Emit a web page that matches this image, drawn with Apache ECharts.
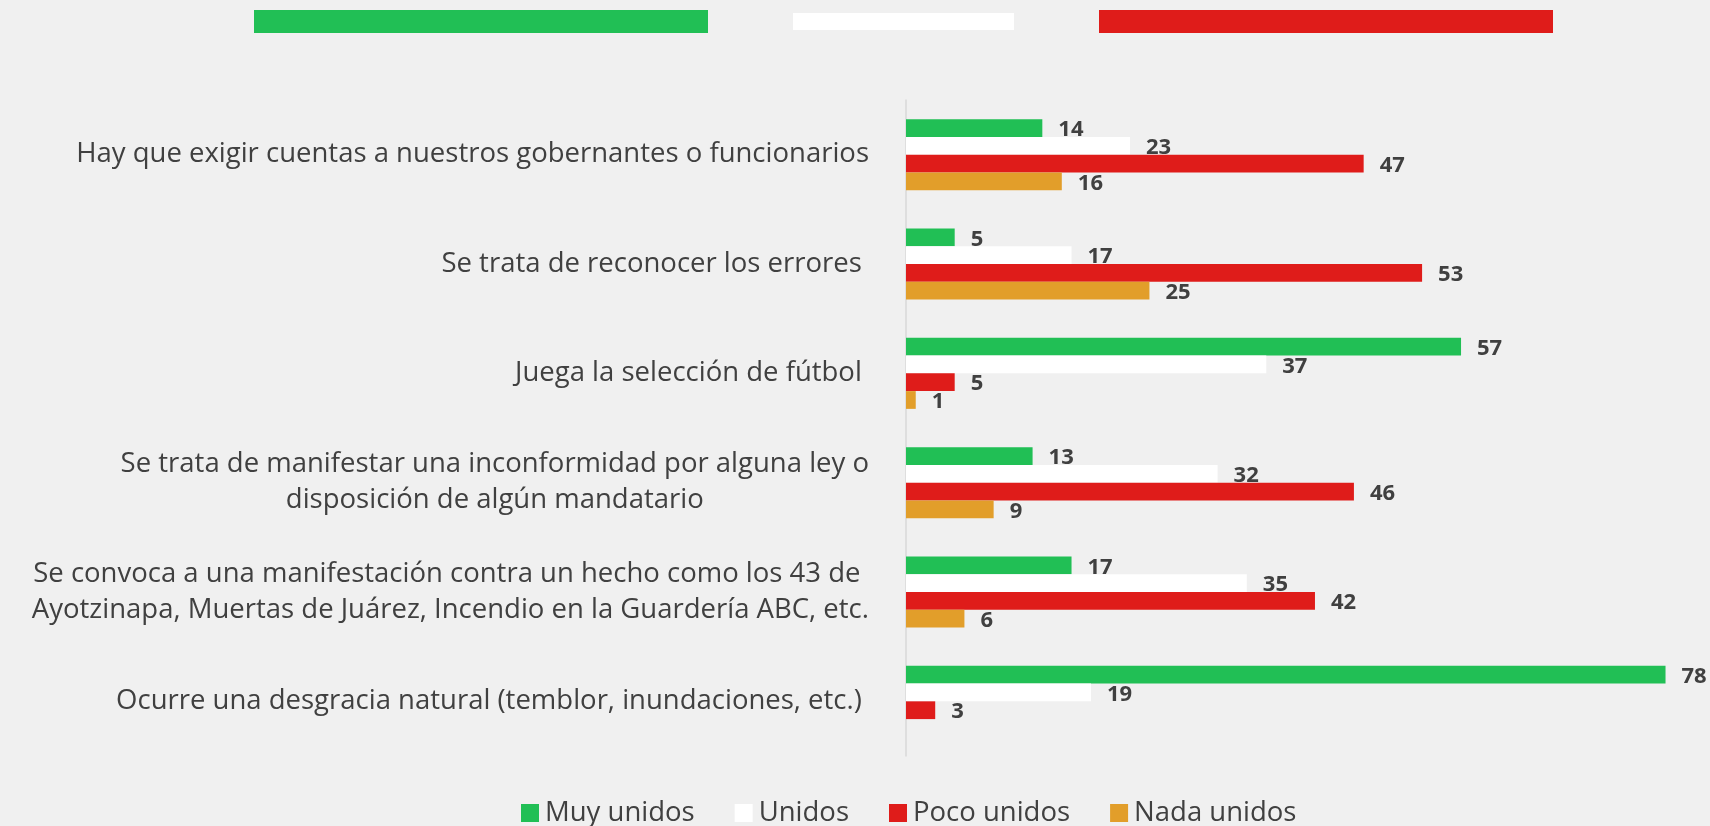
<!DOCTYPE html>
<html>
<head>
<meta charset="utf-8">
<script src="https://cdn.jsdelivr.net/npm/echarts@6/dist/echarts.min.js"></script>
<style>
html,body{margin:0;padding:0;background:#F0F0F0;}
#c{width:1710px;height:826px;}
</style>
</head>
<body>
<div id="c"></div>
<script>
const categories = [
  "Hay que exigir cuentas a nuestros gobernantes o funcionarios",
  "Se trata de reconocer los errores ",
  "Juega la selección de fútbol ",
  "Se trata de manifestar una inconformidad por alguna ley o\ndisposición de algún mandatario",
  "Se convoca a una manifestación contra un hecho como los 43 de \nAyotzinapa, Muertas de Juárez, Incendio en la Guardería ABC, etc.",
  "Ocurre una desgracia natural (temblor, inundaciones, etc.) "
];
const seriesNames = ["Muy unidos", "Unidos", "Poco unidos", "Nada unidos"];
const muyUnidos  = [14, 5, 57, 13, 17, 78];
const unidos     = [23, 17, 37, 32, 35, 19];
const pocoUnidos = [47, 53, 5, 46, 42, 3];
const nadaUnidos = [16, 25, 1, 9, 6, null];
const colors = ["#21BF55", "#FFFFFF", "#DF1C1A", "#E29E2A"];

const chart = echarts.init(document.getElementById('c'), null, {renderer: 'canvas'});
const dataSets = [muyUnidos, unidos, pocoUnidos, nadaUnidos];

const series = dataSets.map((d, i) => ({
  name: seriesNames[i],
  type: 'bar',
  data: d,
  barGap: '0%',
  barCategoryGap: '35%',
  itemStyle: {color: colors[i]},
  label: {
    show: true,
    position: 'right',
    distance: 16,
    offset: [0, 2],
    color: '#404040',
    fontFamily: 'Open Sans',
    fontWeight: 'bold',
    fontSize: 22
  },
  silent: true
}));

chart.setOption({
  backgroundColor: '#F0F0F0',
  animation: false,
  textStyle: {fontFamily: 'Open Sans'},
  grid: {left: 906, right: 25, top: 100, bottom: 70, containLabel: false},
  xAxis: {
    type: 'value', min: 0, max: 80,
    show: false
  },
  yAxis: {
    type: 'category',
    data: categories,
    inverse: true,
    axisLine: {show: true, lineStyle: {color: '#D9D9D9', width: 1.5}},
    axisTick: {show: false},
    splitLine: {show: false},
    axisLabel: {
      margin: 37,
      align: 'right',
      color: '#404040',
      fontFamily: 'Open Sans',
      fontSize: 27.5,
      lineHeight: 36,
      formatter: function (v) {
        return v.split('\n').map(s => '{c|' + s + '}').join('\n');
      },
      rich: {c: {align: 'center', fontFamily: 'Open Sans', fontSize: 27.5, lineHeight: 36, color: '#404040'}}
    }
  },
  legend: {
    data: seriesNames,
    top: 799,
    left: 521,
    padding: 0,
    itemWidth: 18,
    itemHeight: 18,
    itemGap: 40,
    icon: 'rect',
    textStyle: {color: '#404040', fontFamily: 'Open Sans', fontSize: 27.5, padding: [0, 0, 0, 1]}
  },
  graphic: [
    {type: 'rect', shape: {x: 254, y: 10, width: 454, height: 23}, style: {fill: '#21BF55'}},
    {type: 'rect', shape: {x: 793, y: 13, width: 221, height: 17}, style: {fill: '#FFFFFF'}},
    {type: 'rect', shape: {x: 1099, y: 10, width: 454, height: 23}, style: {fill: '#DF1C1A'}}
  ],
  series: series
});
</script>
</body>
</html>
